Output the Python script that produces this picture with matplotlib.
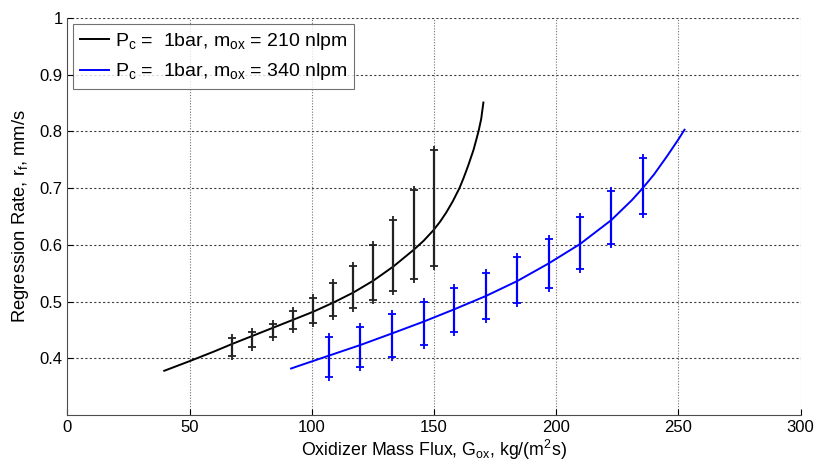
import numpy as np
import matplotlib
matplotlib.use('Agg')
import matplotlib.pyplot as plt

plt.rcParams['font.family'] = ['Liberation Sans', 'DejaVu Sans']
plt.rcParams['mathtext.fontset'] = 'custom'
plt.rcParams['mathtext.rm'] = 'Liberation Sans'
plt.rcParams['mathtext.it'] = 'Liberation Sans'

# fitted curve, 210 nlpm
fit1_x = [39.6, 50, 60, 67.5, 75.7, 83.9, 92.1, 100.5, 108.7, 117, 125.2, 133.4,
          141.6, 145.7, 149.8, 152.5, 155, 157.7, 160.4, 162.2, 164, 166.2, 168.2,
          169.3, 170.2]
fit1_y = [0.378, 0.395, 0.412, 0.4255, 0.4395, 0.4535, 0.4675, 0.482, 0.498, 0.516,
          0.537, 0.562, 0.591, 0.607, 0.626, 0.641, 0.657, 0.677, 0.700, 0.719, 0.740,
          0.768, 0.800, 0.822, 0.851]

# error bars, 210 nlpm
bar1_x = [67.5, 75.7, 83.9, 92.1, 100.5, 108.7, 117, 125.2, 133.4, 141.6, 149.8]
bar1_lo = [0.404, 0.420, 0.437, 0.451, 0.462, 0.475, 0.489, 0.503, 0.519, 0.539, 0.563]
bar1_hi = [0.435, 0.446, 0.460, 0.483, 0.506, 0.533, 0.563, 0.600, 0.644, 0.697, 0.767]

# fitted curve, 340 nlpm
fit2_x = [91.5, 95.2, 100, 107.2, 119.9, 132.9, 145.7, 158.3, 171.3, 184.1, 197,
          209.8, 222.6, 231, 235.4, 240, 245.3, 250, 252.5]
fit2_y = [0.382, 0.3875, 0.3945, 0.405, 0.4235, 0.444, 0.4646, 0.4864, 0.51, 0.5363,
          0.5675, 0.6016, 0.6439, 0.679, 0.70, 0.724, 0.756, 0.786, 0.803]

# error bars, 340 nlpm
bar2_x = [107.2, 119.9, 132.9, 145.7, 158.3, 171.3, 184.1, 197, 209.8, 222.6, 235.4]
bar2_lo = [0.3665, 0.3847, 0.4028, 0.4235, 0.447, 0.4693, 0.497, 0.5245, 0.557, 0.601, 0.654]
bar2_hi = [0.437, 0.4557, 0.4776, 0.500, 0.5235, 0.550, 0.578, 0.610, 0.6487, 0.695, 0.7527]

xticks = [0, 50, 100, 150, 200, 250, 300]
yticks = [0.4, 0.5, 0.6, 0.7, 0.8, 0.9, 1.0]
ytick_labels = ['0.4', '0.5', '0.6', '0.7', '0.8', '0.9', '1']

fig = plt.figure(figsize=(8.15, 4.65), dpi=100)
ax = fig.add_axes([0.0828, 0.1075, 0.8995, 0.8538])

# grid (MATLAB-like dotted)
for gx in xticks[1:]:
    ax.axvline(gx, color='0.45', lw=0.8, ls=(0, (1, 1.5)), zorder=0)
for gy in yticks:
    ax.axhline(gy, color='0.25', lw=0.8, ls=(0, (2, 2)), zorder=0)

ax.plot(fit1_x, fit1_y, color='k', lw=1.4, label='P$_\\mathregular{c}$ =  1bar, m$_\\mathregular{ox}$ = 210 nlpm')
ax.plot(fit2_x, fit2_y, color='#0000ff', lw=1.4, label='P$_\\mathregular{c}$ =  1bar, m$_\\mathregular{ox}$ = 340 nlpm')

ax.vlines(bar1_x, bar1_lo, bar1_hi, color='#222222', lw=1.6)
ax.plot(bar1_x, bar1_lo, '+', color='#222222', ms=6, mew=1.3)
ax.plot(bar1_x, bar1_hi, '+', color='#222222', ms=6, mew=1.3)

ax.vlines(bar2_x, bar2_lo, bar2_hi, color='#0000ff', lw=1.6)
ax.plot(bar2_x, bar2_lo, '+', color='#0000ff', ms=6, mew=1.3)
ax.plot(bar2_x, bar2_hi, '+', color='#0000ff', ms=6, mew=1.3)

ax.set_xlim(0, 300)
ax.set_ylim(0.3, 1.0)
ax.set_xticks(xticks)
ax.set_yticks(yticks)
ax.set_yticklabels(ytick_labels)
ax.tick_params(direction='in', length=4, labelsize=12, width=0.8)
ax.spines['top'].set_visible(False)
ax.spines['right'].set_visible(False)
ax.spines['left'].set_color('0.3')
ax.spines['bottom'].set_color('0.3')

ax.set_xlabel('Oxidizer Mass Flux, G$_\\mathregular{ox}$, kg/(m$^\\mathregular{2}$s)', fontsize=12.8, labelpad=2)
ax.set_ylabel('Regression Rate, r$_\\mathregular{f}$, mm/s', fontsize=13.2, labelpad=6)

leg = ax.legend(loc='upper left', fontsize=14, frameon=True, fancybox=False,
                edgecolor='0.3', handlelength=1.5, handletextpad=0.3,
                borderaxespad=0.3, labelspacing=0.5, borderpad=0.35)
leg.get_frame().set_linewidth(0.8)

plt.savefig('out.png', dpi=100)
